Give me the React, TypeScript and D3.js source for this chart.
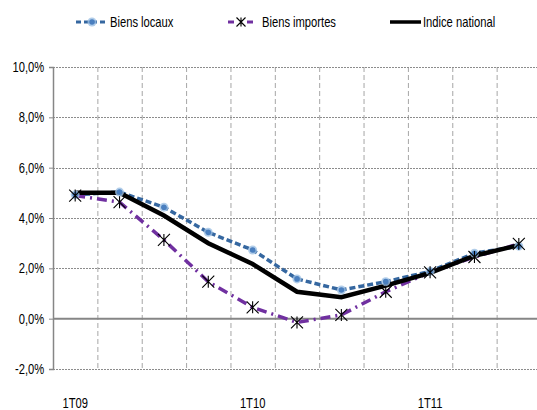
import { useEffect, useRef } from 'react';
import * as d3 from 'd3';

const quarters = ['1T09', '2T09', '3T09', '4T09', '1T10', '2T10', '3T10', '4T10', '1T11', '2T11', '3T11'];
const shownLabels = ['1T09', '1T10', '1T11'];
const biensLocaux = [4.92, 5.03, 4.43, 3.43, 2.73, 1.58, 1.14, 1.47, 1.88, 2.6, 2.88];
const biensImportes = [4.89, 4.63, 3.13, 1.47, 0.45, -0.15, 0.15, 1.07, 1.84, 2.45, 2.97];
const indiceNational = [5.0, 5.0, 4.1, 3.0, 2.17, 1.07, 0.85, 1.31, 1.82, 2.5, 2.92];
const yTicks = [-2, 0, 2, 4, 6, 8, 10];

const FONT = '"Liberation Sans", Arial, sans-serif';
const FONT_SIZE = 14;
const SQUEEZE = 0.8; // narrow the text like the original condensed font

function App() {
  const svgRef = useRef<SVGSVGElement>(null);

  useEffect(() => {
    if (!svgRef.current) return;
    const svg = d3.select(svgRef.current);
    svg.selectAll('*').remove();

    const width = 537;
    const height = 410;
    const left = 53;
    const right = 541;
    const top = 67;
    const bottom = 369;

    const x = d3.scaleBand<string>().domain(quarters).range([left, right]).padding(0);
    const y = d3.scaleLinear().domain([-2, 10]).range([bottom, top]);
    const cx = (i: number) => (x(quarters[i]) ?? 0) + x.bandwidth() / 2;

    svg.attr('viewBox', `0 0 ${width} ${height}`);
    svg.append('rect').attr('width', width).attr('height', height).attr('fill', '#fff');

    const addText = (
      g: d3.Selection<any, any, any, any>,
      tx: number,
      ty: number,
      label: string,
      anchor = 'start'
    ) =>
      g.append('text')
        .attr('transform', `translate(${tx},${ty}) scale(${SQUEEZE},1)`)
        .attr('text-anchor', anchor)
        .attr('font-family', FONT)
        .attr('font-size', FONT_SIZE)
        .attr('fill', '#000')
        .text(label);

    // vertical grid (category boundaries)
    svg.append('g')
      .selectAll('line')
      .data(quarters.slice(1))
      .enter()
      .append('line')
      .attr('x1', d => (x(d) ?? 0) + 0.5)
      .attr('x2', d => (x(d) ?? 0) + 0.5)
      .attr('y1', top)
      .attr('y2', bottom)
      .attr('stroke', '#a6a6a6')
      .attr('stroke-width', 1)
      .attr('stroke-dasharray', '5,3');

    // horizontal grid
    svg.append('g')
      .selectAll('line')
      .data(yTicks.filter(t => t !== 0))
      .enter()
      .append('line')
      .attr('x1', left)
      .attr('x2', width)
      .attr('y1', d => Math.round(y(d)) + 0.5)
      .attr('y2', d => Math.round(y(d)) + 0.5)
      .attr('stroke', '#8c8c8c')
      .attr('stroke-width', 1)
      .attr('stroke-dasharray', '2,1');

    // y axis
    const yAxis = d3.axisLeft(y)
      .tickValues(yTicks)
      .tickSize(4)
      .tickPadding(7)
      .tickFormat(d => `${(d as number).toFixed(1).replace('.', ',')}%`);
    const gy = svg.append('g').attr('transform', `translate(${left},0)`).call(yAxis);
    gy.select('.domain').attr('stroke', '#868686').attr('stroke-width', 1.5);
    gy.selectAll('.tick line').attr('stroke', '#868686');
    gy.selectAll('.tick text')
      .attr('transform', `scale(${SQUEEZE},1)`)
      .attr('font-family', FONT)
      .attr('font-size', FONT_SIZE)
      .attr('fill', '#000');

    // zero line (category axis)
    svg.append('line')
      .attr('x1', left)
      .attr('x2', width)
      .attr('y1', y(0))
      .attr('y2', y(0))
      .attr('stroke', '#868686')
      .attr('stroke-width', 2);

    // x labels
    const gx = svg.append('g');
    shownLabels.forEach(d => addText(gx, cx(quarters.indexOf(d)), 408, d, 'middle'));

    const line = d3.line<number>()
      .x((_, i) => cx(i))
      .y(d => y(d));

    svg.append('path')
      .datum(biensLocaux)
      .attr('d', line)
      .attr('fill', 'none')
      .attr('stroke', '#3567a0')
      .attr('stroke-width', 3.5)
      .attr('stroke-dasharray', '6,3');

    svg.append('path')
      .datum(biensImportes)
      .attr('d', line)
      .attr('fill', 'none')
      .attr('stroke', '#7030a0')
      .attr('stroke-width', 3.5)
      .attr('stroke-dasharray', '10,5,2,5');

    svg.append('path')
      .datum(indiceNational)
      .attr('d', line)
      .attr('fill', 'none')
      .attr('stroke', '#000')
      .attr('stroke-width', 4.5);

    // blue circle markers
    const drawCircle = (g: d3.Selection<any, any, any, any>, px: number, py: number) => {
      g.append('circle').attr('cx', px).attr('cy', py).attr('r', 4.5)
        .attr('fill', '#9dc0e3').attr('opacity', 0.8);
      g.append('circle').attr('cx', px).attr('cy', py).attr('r', 2.8)
        .attr('fill', '#4a7fbf');
    };
    const markers = svg.append('g');
    biensLocaux.forEach((v, i) => drawCircle(markers, cx(i), y(v)));

    // star markers
    const drawStar = (g: d3.Selection<any, any, any, any>, px: number, py: number, s = 6) => {
      g.append('path')
        .attr('d', `M${px - s},${py - s}L${px + s},${py + s}M${px - s},${py + s}L${px + s},${py - s}M${px},${py - s}L${px},${py + s}`)
        .attr('stroke', '#000')
        .attr('stroke-width', 1.1)
        .attr('fill', 'none');
    };
    biensImportes.forEach((v, i) => drawStar(markers, cx(i), y(v)));

    // legend
    const legend = svg.append('g');
    const ly = 22;
    legend.append('line').attr('x1', 76).attr('x2', 108).attr('y1', ly).attr('y2', ly)
      .attr('stroke', '#3567a0').attr('stroke-width', 3).attr('stroke-dasharray', '5,3');
    drawCircle(legend, 92, ly);
    addText(legend, 110, ly + 5, 'Biens locaux');

    legend.append('line').attr('x1', 228).attr('x2', 234).attr('y1', ly).attr('y2', ly)
      .attr('stroke', '#7030a0').attr('stroke-width', 3);
    legend.append('line').attr('x1', 247).attr('x2', 253).attr('y1', ly).attr('y2', ly)
      .attr('stroke', '#7030a0').attr('stroke-width', 3);
    drawStar(legend, 241, ly, 4.5);
    addText(legend, 262, ly + 5, 'Biens importes');

    legend.append('line').attr('x1', 390).attr('x2', 421).attr('y1', ly).attr('y2', ly)
      .attr('stroke', '#000').attr('stroke-width', 3.5);
    addText(legend, 423, ly + 5, 'Indice national');
  }, []);

  return (
    <svg
      ref={svgRef}
      width={537}
      height={410}
      style={{ position: 'absolute', left: 0, top: 0, display: 'block' }}
    />
  );
}

export default App;
